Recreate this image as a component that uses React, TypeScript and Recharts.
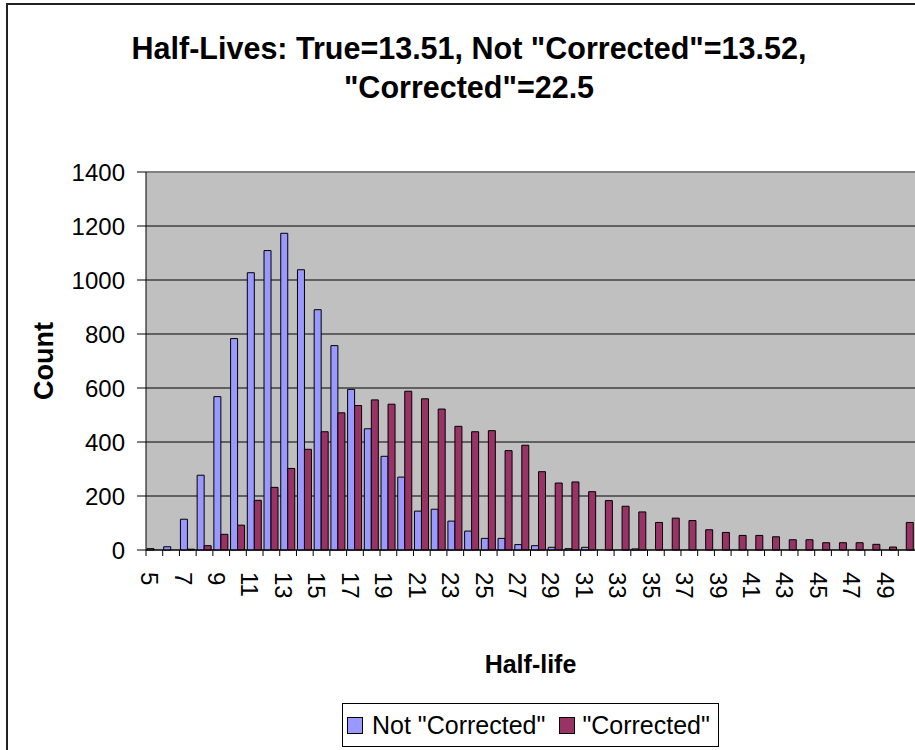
import React from 'react';
import { BarChart, Bar, XAxis, YAxis, CartesianGrid, Legend, ReferenceLine } from 'recharts';

const categories = ['5','6','7','8','9','10','11','12','13','14','15','16','17','18','19','20','21','22','23','24','25','26','27','28','29','30','31','32','33','34','35','36','37','38','39','40','41','42','43','44','45','46','47','48','49','50'];
const notCorrected = [5,12,114,277,568,783,1027,1109,1173,1038,890,757,595,449,347,270,144,151,107,70,43,43,20,16,10,5,10,0,0,4,0,0,0,0,0,0,0,0,0,0,0,0,0,0,0,0];
const corrected = [0,0,3,16,58,92,184,232,302,373,438,508,535,556,540,588,560,522,458,438,442,368,388,290,248,252,216,183,162,141,102,118,109,75,65,54,54,49,38,38,27,27,27,21,11,102];
const yTicks = [0,200,400,600,800,1000,1200,1400];
const seriesNames = ['Not "Corrected"', '"Corrected"'];
const seriesColors = ['#9999FF', '#993366'];

const data = categories.map((c, i) => ({ cat: c, nc: notCorrected[i], c: corrected[i] }));

const FONT = "'Liberation Sans', Arial, sans-serif";

function XTick(props: any) {
  const { x, y, payload, index } = props;
  const half = payload && typeof payload.offset === 'number' && payload.offset > 0 ? payload.offset : 8.36;
  const idx = payload && typeof payload.index === 'number' ? payload.index : index;
  const ty = y + 22;
  return (
    <g>
      <line x1={x - half} x2={x - half} y1={y} y2={y + 6} stroke="#000" strokeWidth={1} />
      {idx % 2 === 0 && (
        <text x={x} y={ty} transform={`rotate(90, ${x}, ${ty})`} dy="0.55em" textAnchor="start" fontSize={24} fill="#000" fontFamily={FONT}>
          {payload.value}
        </text>
      )}
    </g>
  );
}

function XLabel(props: any) {
  const vb = props.viewBox || {};
  return (
    <text x={vb.x + vb.width / 2} y={vb.y + 123} textAnchor="middle" fontSize={25} fontWeight="bold" fill="#000" fontFamily={FONT}>
      Half-life
    </text>
  );
}

function YLabel(props: any) {
  const vb = props.viewBox || {};
  const x = vb.x + 53;
  const y = vb.y + vb.height / 2;
  return (
    <text x={x} y={y} transform={`rotate(-90, ${x}, ${y})`} textAnchor="middle" fontSize={27} fontWeight="bold" fill="#000" fontFamily={FONT}>
      Count
    </text>
  );
}

function LegendBox(props: any) {
  const payload = [...(props.payload || [])].sort(
    (a: any, b: any) => seriesNames.indexOf(a.value) - seriesNames.indexOf(b.value)
  );
  return (
    <div style={{ boxSizing: 'border-box', width: 377, height: 44, border: '1.5px solid #000', background: '#fff', display: 'flex', alignItems: 'center', paddingLeft: 4, fontFamily: FONT, fontSize: 25, color: '#000', whiteSpace: 'nowrap' }}>
      {payload.map((p: any, i: number) => (
        <div key={i} style={{ display: 'flex', alignItems: 'center', marginRight: i === 0 ? 14 : 0 }}>
          <span style={{ display: 'inline-block', boxSizing: 'border-box', width: 16, height: 17, background: p.color, border: '1px solid #000', marginRight: i === 0 ? 9 : 7 }} />
          <span>{p.value}</span>
        </div>
      ))}
    </div>
  );
}

export default function App() {
  return (
    <div style={{ position: 'absolute', left: 0, top: 0, width: 915, height: 750, overflow: 'hidden', background: '#fff' }}>
      <div style={{ position: 'absolute', left: 6, top: 3, width: 1000, height: 1000, border: '2px solid #222', boxSizing: 'border-box' }} />
      <div style={{ position: 'absolute', left: 0, top: 29, width: 938, textAlign: 'center', fontFamily: FONT, fontSize: 30.5, fontWeight: 'bold', lineHeight: '39px', color: '#000' }}>
        <div>Half-Lives: True=13.51, Not "Corrected"=13.52,</div>
        <div>"Corrected"=22.5</div>
      </div>
      <div style={{ position: 'absolute', left: 0, top: 0 }}>
        <BarChart width={915} height={750} data={data} margin={{ top: 172, right: 0, bottom: 0, left: 0 }} barGap={0} barSize={7}>
          <CartesianGrid horizontal vertical={false} stroke="#000" strokeWidth={1} fill="#C0C0C0" fillOpacity={1} />
          <XAxis dataKey="cat" height={200} interval={0} tickSize={0} tickMargin={0} tick={<XTick />} axisLine={{ stroke: '#000', strokeWidth: 1 }} tickLine={false} label={<XLabel />} />
          <YAxis width={146} domain={[0, 1400]} ticks={yTicks} interval={0} tickSize={9} tickMargin={12} tick={{ fontSize: 24, fill: '#000', fontFamily: FONT }} axisLine={{ stroke: '#000', strokeWidth: 1 }} tickLine={{ stroke: '#000', strokeWidth: 1 }} label={<YLabel />} />
          <ReferenceLine y={1400} stroke="#808080" strokeWidth={2} />
          <Bar dataKey="nc" name={seriesNames[0]} fill={seriesColors[0]} stroke="#000" strokeWidth={1} isAnimationActive={false} />
          <Bar dataKey="c" name={seriesNames[1]} fill={seriesColors[1]} stroke="#000" strokeWidth={1} isAnimationActive={false} />
          <Legend layout="vertical" align="center" verticalAlign="middle" content={<LegendBox />} wrapperStyle={{ left: 342, top: 703, width: 377, height: 44 }} />
        </BarChart>
      </div>
    </div>
  );
}
